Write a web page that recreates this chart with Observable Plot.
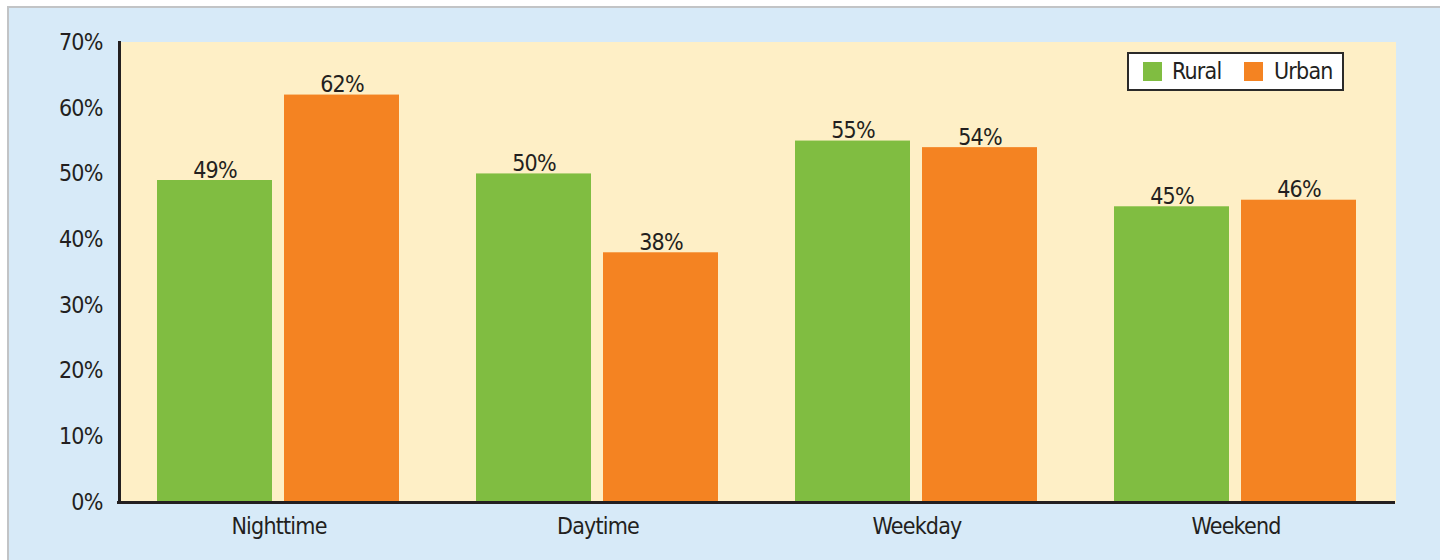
<!DOCTYPE html>
<html>
<head>
<meta charset="utf-8">
<script src="https://cdn.jsdelivr.net/npm/d3@7"></script>
<script src="https://cdn.jsdelivr.net/npm/@observablehq/plot@0.6"></script>
<style>
  html, body { margin: 0; padding: 0; background: #ffffff; }
  #wrap { position: relative; width: 1440px; height: 560px; overflow: hidden; background: #ffffff; }
  #bg { position: absolute; left: 7px; top: 6px; width: 1460px; height: 580px; background: #d7eaf8;
        border-top: 2px solid #c2c4c6; border-left: 2px solid #c2c4c6; }
  #chart { position: absolute; left: 0; top: 0; }
  #legend { position: absolute; left: 1127px; top: 52px; width: 213px; height: 35px; background: #ffffff;
            border: 2px solid #2b2a29;
            font-family: "DejaVu Sans Condensed", "Roboto", sans-serif; font-size: 23px; letter-spacing: -0.8px; color: #231f20; }
  .sw { position: absolute; top: 8px; width: 19px; height: 19px; }
  .lt { position: absolute; top: 3px; line-height: 28px; white-space: nowrap; }
  svg text { letter-spacing: -0.8px; }
</style>
</head>
<body>
<div id="wrap">
  <div id="bg"></div>
  <div id="chart"></div>
  <div id="legend"></div>
</div>
<script>
const categories = ["Nighttime", "Daytime", "Weekday", "Weekend"];
const seriesNames = ["Rural", "Urban"];
const rural = [49, 50, 55, 45];
const urban = [62, 38, 54, 46];
const yTicks = [0, 10, 20, 30, 40, 50, 60, 70];
const colors = ["#80bd41", "#f48322"];

const rows = [];
categories.forEach((c, i) => {
  rows.push({cat: c, series: "Rural", value: rural[i]});
  rows.push({cat: c, series: "Urban", value: urban[i]});
});

const font = '"DejaVu Sans Condensed", "Roboto", sans-serif';

const plot = Plot.plot({
  width: 1440,
  height: 560,
  marginLeft: 118,
  marginRight: 44,
  marginTop: 42,
  marginBottom: 58,
  style: {background: "transparent", fontFamily: font, fontSize: "23px", color: "#231f20"},
  fx: {domain: categories, padding: 0, axis: "bottom", tickSize: 0, tickPadding: 15, label: null},
  x: {domain: seriesNames, paddingInner: 0.09375, paddingOuter: 0.297, axis: null},
  y: {domain: [0, 70], ticks: yTicks, tickFormat: d => d + "%", tickSize: 0, tickPadding: 17, label: null},
  color: {domain: seriesNames, range: colors},
  marks: [
    Plot.frame({fill: "#feefc6", stroke: null, inset: -0.5}),
    Plot.barY(rows, {fx: "cat", x: "series", y: "value", fill: "series"}),
    Plot.text(rows, {fx: "cat", x: "series", y: "value", text: d => d.value + "%", lineAnchor: "bottom", dy: -3, fontSize: 23, fill: "#231f20"}),
    Plot.ruleY([0], {stroke: "#231f20", strokeWidth: 3, insetLeft: -2}),
    Plot.frame({anchor: "left", facetAnchor: "left", stroke: "#231f20", strokeWidth: 3})
  ]
});
document.getElementById("chart").appendChild(plot);

const legend = document.getElementById("legend");
const swLeft = [14, 115];
const txtLeft = [43, 145];
seriesNames.forEach((s, i) => {
  const sw = document.createElement("span");
  sw.className = "sw";
  sw.style.left = swLeft[i] + "px";
  sw.style.background = colors[i];
  legend.appendChild(sw);
  const t = document.createElement("span");
  t.className = "lt";
  t.style.left = txtLeft[i] + "px";
  t.textContent = s;
  legend.appendChild(t);
});
</script>
</body>
</html>
